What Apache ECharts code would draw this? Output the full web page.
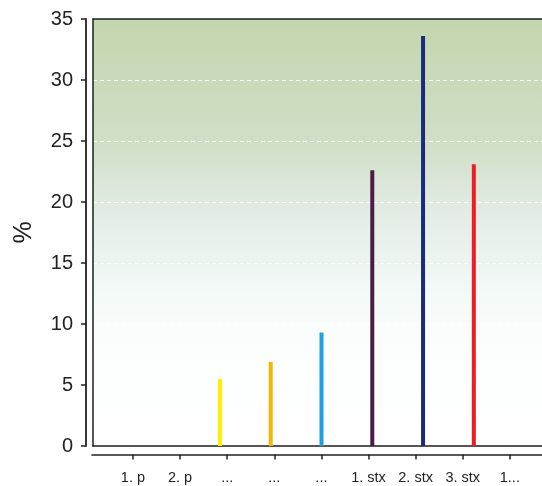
<!DOCTYPE html>
<html>
<head>
<meta charset="utf-8">
<script src="https://cdn.jsdelivr.net/npm/echarts@6/dist/echarts.min.js"></script>
<style>
html,body{margin:0;padding:0;background:#ffffff;}
#main{width:542px;height:486px;}
</style>
</head>
<body>
<div id="main"></div>
<script>
const categories = ['1. p', '2. p', '...', '...', '...', '1. stx', '2. stx', '3. stx', '1...'];
const values = [null, null, 5.5, 6.9, 9.3, 22.6, 33.6, 23.1, null];
const yTicks = [0, 5, 10, 15, 20, 25, 30, 35];
const barColors = ['#ffee00', '#ffee00', '#ffee00', '#f2b705', '#1f9fe0', '#4a1d45', '#1c2a7e', '#ee1d23', '#ee1d23'];

const chart = echarts.init(document.getElementById('main'), null, {renderer: 'canvas'});
const font = 'Liberation Sans, Arial, sans-serif';
const frameLine = {show: true, onZero: false, lineStyle: {color: '#1e1e1e', width: 1.5}};

const option = {
  animation: false,
  backgroundColor: '#ffffff',
  grid: [
    {
      left: 93, top: 19, right: -8, height: 427,
      outerBoundsMode: 'none', containLabel: false,
      show: true,
      borderWidth: 0,
      backgroundColor: new echarts.graphic.LinearGradient(0, 0, 0, 1, [
        {offset: 0, color: '#c2d6ad'},
        {offset: 0.3, color: '#d1dfc8'},
        {offset: 0.45, color: '#e2ece4'},
        {offset: 0.65, color: '#f4faf8'},
        {offset: 0.78, color: '#fcfefd'},
        {offset: 1, color: '#ffffff'}
      ])
    },
    {left: 92, top: 440, right: -10, height: 14.5, outerBoundsMode: 'none', containLabel: false},
    {left: 109.4, top: 440, width: 424, height: 14.5, outerBoundsMode: 'none', containLabel: false}
  ],
  xAxis: [
    {
      gridIndex: 0, type: 'category', data: categories, position: 'bottom',
      axisLine: frameLine, axisTick: {show: false}, axisLabel: {show: false},
      splitLine: {show: false}
    },
    {
      gridIndex: 1, type: 'category', data: categories,
      axisLine: {show: true, lineStyle: {color: '#222', width: 1.6}},
      axisTick: {show: false}, axisLabel: {show: false}, splitLine: {show: false}
    },
    {
      gridIndex: 2, type: 'category', data: categories,
      axisLine: {show: false},
      axisTick: {show: true, alignWithLabel: true, length: 5, lineStyle: {color: '#222', width: 1.5}},
      axisLabel: {show: true, interval: 0, margin: 16, color: '#222', fontSize: 14.5, fontFamily: font},
      splitLine: {show: false}
    },
    {
      gridIndex: 0, type: 'category', data: categories, position: 'top',
      axisLine: frameLine, axisTick: {show: false}, axisLabel: {show: false},
      splitLine: {show: false}
    }
  ],
  yAxis: [
    {
      gridIndex: 0, type: 'value',
      min: yTicks[0], max: yTicks[yTicks.length - 1], interval: 5,
      offset: 7,
      name: '%', nameLocation: 'middle', nameGap: 49, nameRotate: 90,
      nameTextStyle: {fontSize: 25, color: '#222', fontFamily: font},
      axisLine: {show: true, lineStyle: {color: '#222', width: 1.8}},
      axisTick: {show: true, length: 5, lineStyle: {color: '#222', width: 1.5}},
      axisLabel: {show: true, margin: 13, color: '#222', fontSize: 20, fontFamily: font},
      splitLine: {show: true, showMinLine: false, showMaxLine: false,
        lineStyle: {color: 'rgba(255,255,255,0.9)', width: 1, type: [4, 3]}}
    },
    {gridIndex: 1, type: 'value', show: false},
    {gridIndex: 2, type: 'value', show: false},
    {
      gridIndex: 0, type: 'value', position: 'left', offset: 0,
      min: yTicks[0], max: yTicks[yTicks.length - 1], interval: 5,
      axisLine: frameLine, axisTick: {show: false}, axisLabel: {show: false},
      splitLine: {show: false}
    }
  ],
  series: [
    {
      type: 'bar', xAxisIndex: 0, yAxisIndex: 0,
      barWidth: 4,
      data: values.map((v, i) => ({value: v, itemStyle: {color: barColors[i]}}))
    }
  ]
};
chart.setOption(option);
</script>
</body>
</html>
